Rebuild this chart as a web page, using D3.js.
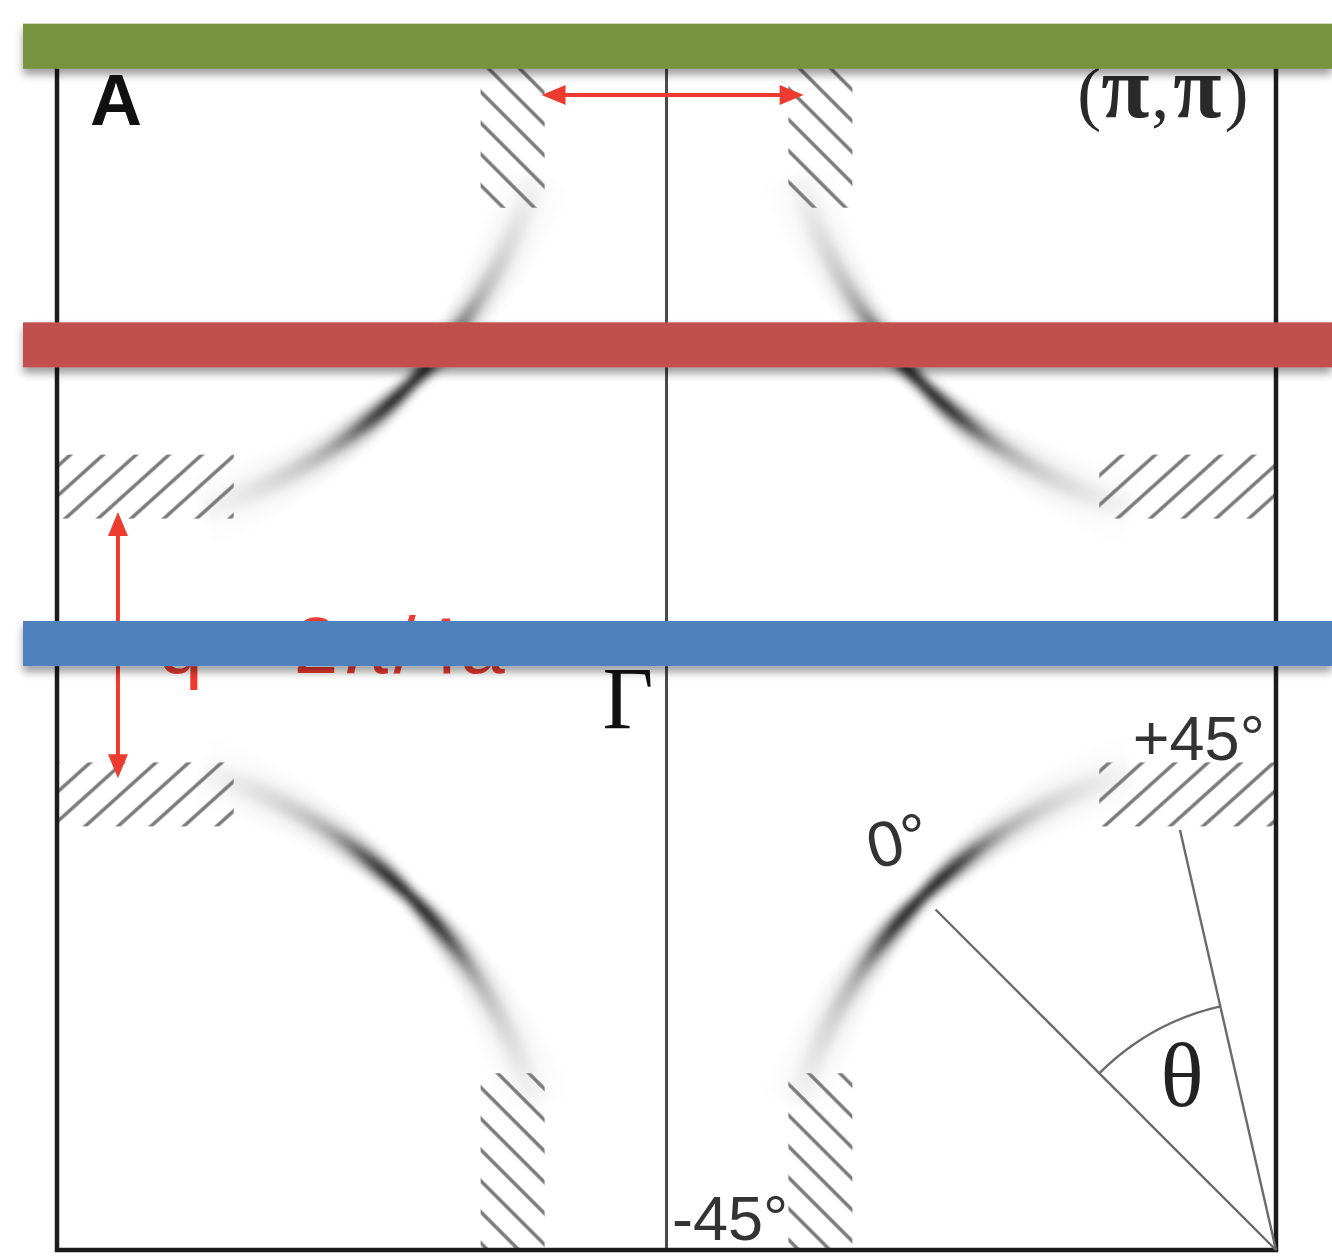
<!DOCTYPE html>
<html>
<head>
<meta charset="utf-8">
<script src="https://cdn.jsdelivr.net/npm/d3@7"></script>
<style>
  html, body { margin: 0; padding: 0; background: #fff; }
  svg { display: block; }
</style>
</head>
<body>
<svg id="chart" width="1332" height="1257"></svg>
<script>
// ---- momentum-space content (units of pi/a) ----
const cornerKx = [-1, 1, 1, -1];          // zone corners the Fermi arcs are centred on
const cornerKy = [1, 1, -1, -1];
const fermiRadius = 0.82;                 // arc radius around each corner
const arcSpan = [17, 73];                 // arc extent, degrees measured from the zone edge
const nodeAngle = 45;                     // nodal direction (peak spectral weight)
const hatchBand = [0.2, 0.305];           // |k_parallel| range of hatched antinodal patches
const hatchDepth = [0.71, 1];             // |k_perp| range of hatched patches

const cutNames = ["ky = π", "ky = π/2", "ky = 0"];
const cutKy = [0.975, 0.485, -0.005];     // momentum cuts drawn across the zone

const qHorizontalKx = [-0.205, 0.225];    // nesting vector along kx (at ky below)
const qHorizontalKy = 0.895;
const qVerticalKy = [0.211, -0.226];      // nesting vector along ky (at kx below)
const qVerticalKx = -0.9;

const nodeRayLength = 0.79;               // Γ-side ray of the angle annotation
const thetaRayEnd = [0.8425, -0.311];     // second ray, to the antinodal patch
const thetaArcRadius = 0.41;

const labelText = ["A", "Γ", "q = 2π/4a", "+45°", "0°", "-45°", "θ"];

// ---- layout ----
const W = 1332, H = 1257;
const x = d3.scaleLinear([-1, 1], [57, 1276]);
const y = d3.scaleLinear([-1, 1], [1250, 31]);
const unit = x(1) - x(0);                 // pixels per pi/a

const cutColor = d3.scaleOrdinal(cutNames, ["#77933c", "#c0504d", "#4f81bd"]);
const qRed = "#ee3b30";

const svg = d3.select("#chart");
const defs = svg.append("defs");

// blur for the spectral-weight arcs
defs.append("filter").attr("id", "soft")
  .attr("x", "-10%").attr("y", "-10%").attr("width", "120%").attr("height", "120%")
  .append("feGaussianBlur").attr("stdDeviation", 4);

// drop shadow for the cut bars
defs.append("filter").attr("id", "shadow")
  .attr("x", "-5%").attr("y", "-60%").attr("width", "110%").attr("height", "220%")
  .append("feDropShadow")
  .attr("dx", 0).attr("dy", 6).attr("stdDeviation", 4.5)
  .attr("flood-color", "#000").attr("flood-opacity", 0.38);

// hatch patterns: "\" for patches on horizontal zone edges, "/" for vertical edges
function hatchPattern(id, angle) {
  const p = defs.append("pattern").attr("id", id)
    .attr("patternUnits", "userSpaceOnUse")
    .attr("width", 22).attr("height", 22)
    .attr("patternTransform", `rotate(${angle})`);
  p.append("line").attr("x1", 11).attr("y1", -2).attr("x2", 11).attr("y2", 24)
    .attr("stroke", "#777").attr("stroke-width", 3.4);
}
hatchPattern("hatchV", -45);
hatchPattern("hatchH", 48);

// ---- Fermi arcs with angle-dependent spectral weight ----
const weight = d => 0.8 * Math.exp(-((d / 7) ** 2)) + 0.22 * Math.exp(-((d / 19) ** 2));
const halfWidth = d => 8 + 1.0 * Math.abs(d);
const layers = [{ k: 1, o: 0.28 }, { k: 0.55, o: 0.5 }, { k: 0.3, o: 1 }];
const rad = Math.PI / 180;
const arcGen = d3.arc();

const arcs = svg.append("g").attr("filter", "url(#soft)");
const step = 0.5;
const phis = d3.range(arcSpan[0], arcSpan[1], step);

cornerKx.forEach((cx, i) => {
  const cy = cornerKy[i];
  const sx = Math.sign(cx), sy = Math.sign(cy);
  const g = arcs.append("g").attr("transform", `translate(${x(cx)},${y(cy)})`);
  const ang = phi => Math.atan2(-sx * Math.cos(phi * rad), -sy * Math.sin(phi * rad));
  phis.forEach(phi => {
    const d = phi + step / 2 - nodeAngle;
    const w = weight(d), hw = halfWidth(d);
    const R = fermiRadius * unit;
    layers.forEach(L => {
      g.append("path")
        .attr("d", arcGen({
          innerRadius: R - hw * L.k,
          outerRadius: R + hw * L.k,
          startAngle: ang(phi - 0.05),
          endAngle: ang(phi + step + 0.05)
        }))
        .attr("fill", "#000")
        .attr("fill-opacity", Math.min(1, w * L.o));
    });
  });
});

// ---- hatched antinodal patches ----
const hatch = svg.append("g");
cornerKx.forEach((cx, i) => {
  const sx = Math.sign(cx), sy = Math.sign(cornerKy[i]);
  // patch on the horizontal zone edge
  const vx = hatchBand.map(v => x(sx * v)), vy = hatchDepth.map(v => y(sy * v));
  hatch.append("rect")
    .attr("x", d3.min(vx)).attr("y", d3.min(vy))
    .attr("width", Math.abs(vx[1] - vx[0])).attr("height", Math.abs(vy[1] - vy[0]))
    .attr("fill", "url(#hatchV)");
  // patch on the vertical zone edge
  const hx = hatchDepth.map(v => x(sx * v)), hy = hatchBand.map(v => y(sy * v));
  hatch.append("rect")
    .attr("x", d3.min(hx)).attr("y", d3.min(hy))
    .attr("width", Math.abs(hx[1] - hx[0])).attr("height", Math.abs(hy[1] - hy[0]))
    .attr("fill", "url(#hatchH)");
});

// ---- zone frame and kx = 0 line ----
svg.append("line")
  .attr("x1", x(0)).attr("x2", x(0)).attr("y1", y(1)).attr("y2", y(-1))
  .attr("stroke", "#4a4a4a").attr("stroke-width", 3);
svg.append("rect")
  .attr("x", x(-1)).attr("y", y(1))
  .attr("width", x(1) - x(-1)).attr("height", y(-1) - y(1))
  .attr("fill", "none").attr("stroke", "#1c1c1c").attr("stroke-width", 4.5);

// ---- angle annotation at the (π,-π) corner ----
const ann = svg.append("g").attr("stroke", "#6a6a6a").attr("stroke-width", 2.4).attr("fill", "none");
const c0 = [x(1), y(-1)];
const nodeEnd = [1 - nodeRayLength * Math.cos(nodeAngle * rad), -1 + nodeRayLength * Math.sin(nodeAngle * rad)];
ann.append("line").attr("x1", c0[0]).attr("y1", c0[1]).attr("x2", x(nodeEnd[0])).attr("y2", y(nodeEnd[1]));
ann.append("line").attr("x1", c0[0]).attr("y1", c0[1]).attr("x2", x(thetaRayEnd[0])).attr("y2", y(thetaRayEnd[1]));
const a0 = Math.atan2(y(nodeEnd[1]) - c0[1], x(nodeEnd[0]) - c0[0]);
const a1 = Math.atan2(y(thetaRayEnd[1]) - c0[1], x(thetaRayEnd[0]) - c0[0]);
const tp = d3.path();
const rr = thetaArcRadius * unit;
tp.moveTo(c0[0] + rr * Math.cos(a0), c0[1] + rr * Math.sin(a0));
tp.arc(c0[0], c0[1], rr, a0, a1, false);
ann.append("path").attr("d", tp.toString());

// ---- nesting-vector arrows ----
function arrow(g, p0, p1) {
  const P0 = [x(p0[0]), y(p0[1])], P1 = [x(p1[0]), y(p1[1])];
  const len = Math.hypot(P1[0] - P0[0], P1[1] - P0[1]);
  const ux = (P1[0] - P0[0]) / len, uy = (P1[1] - P0[1]) / len;
  const hl = 24, hw = 10;
  g.append("line")
    .attr("x1", P0[0] + ux * hl * 0.7).attr("y1", P0[1] + uy * hl * 0.7)
    .attr("x2", P1[0] - ux * hl * 0.7).attr("y2", P1[1] - uy * hl * 0.7)
    .attr("stroke", qRed).attr("stroke-width", 4);
  [[P1, 1], [P0, -1]].forEach(([T, s]) => {
    const bx = T[0] - s * ux * hl, by = T[1] - s * uy * hl;
    g.append("path")
      .attr("d", `M${T[0]},${T[1]}L${bx - uy * hw},${by + ux * hw}L${bx + uy * hw},${by - ux * hw}Z`)
      .attr("fill", qRed);
  });
}
const arrows = svg.append("g");
arrow(arrows, [qHorizontalKx[0], qHorizontalKy], [qHorizontalKx[1], qHorizontalKy]);
arrow(arrows, [qVerticalKx, qVerticalKy[0]], [qVerticalKx, qVerticalKy[1]]);

// ---- labels ----
const sans = "'Liberation Sans', Arial, Helvetica, sans-serif";
const serif = "'Liberation Serif', 'Times New Roman', serif";
const labels = svg.append("g");

labels.append("text").text(labelText[0])
  .attr("x", x(-0.946)).attr("y", y(0.846))
  .attr("font-family", sans).attr("font-weight", "bold").attr("font-size", 72).attr("fill", "#111");

const pp = labels.append("text")
  .attr("x", x(0.955)).attr("y", y(0.859)).attr("text-anchor", "end")
  .attr("font-family", serif).attr("fill", "#2a2a2a");
pp.append("tspan").attr("font-size", 72).text("(");
pp.append("tspan").attr("font-size", 88).attr("font-weight", "bold").text("π");
pp.append("tspan").attr("font-size", 72).attr("dx", 2).text(",");
pp.append("tspan").attr("font-size", 88).attr("font-weight", "bold").attr("dx", 4).text("π");
pp.append("tspan").attr("font-size", 72).attr("dx", 3).text(")");

labels.append("text").text(labelText[1])
  .attr("x", x(-0.105)).attr("y", y(-0.1436))
  .attr("font-family", serif).attr("font-size", 88).attr("fill", "#111");

labels.append("text").text(labelText[2])
  .attr("x", x(-0.834)).attr("y", y(-0.0533))
  .attr("font-family", sans).attr("font-size", 80).attr("fill", qRed);

labels.append("text").text(labelText[3])
  .attr("x", x(0.765)).attr("y", y(-0.196))
  .attr("font-family", sans).attr("font-size", 63).attr("fill", "#333");

labels.append("text").text(labelText[4])
  .attr("text-anchor", "middle")
  .attr("transform", `translate(${x(0.388)},${y(-0.3634)}) rotate(-14)`)
  .attr("font-family", sans).attr("font-size", 64).attr("fill", "#333");

labels.append("text").text(labelText[5])
  .attr("x", x(0.009)).attr("y", y(-0.9836))
  .attr("font-family", sans).attr("font-size", 63).attr("fill", "#333");

labels.append("text").text(labelText[6])
  .attr("x", x(0.846)).attr("y", y(-0.764)).attr("text-anchor", "middle")
  .attr("font-family", serif).attr("font-size", 90).attr("fill", "#222");

// ---- momentum cuts (drawn on top) ----
const barHalf = 0.037;
svg.append("g").selectAll("rect")
  .data(cutNames)
  .join("rect")
  .attr("x", 23)
  .attr("y", (d, i) => y(cutKy[i] + barHalf))
  .attr("width", W - 23)
  .attr("height", 2 * barHalf * unit)
  .attr("fill", d => cutColor(d))
  .attr("filter", "url(#shadow)");
</script>
</body>
</html>
